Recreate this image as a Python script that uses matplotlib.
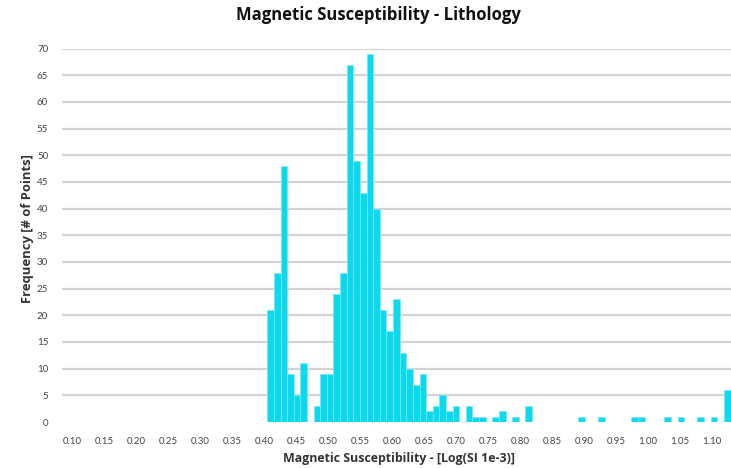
import numpy as np
import matplotlib
matplotlib.use("Agg")
import matplotlib.pyplot as plt

plt.rcParams['font.family'] = ['Open Sans', 'DejaVu Sans']

# histogram bins (log SI 1e-3)
bin_start = 0.4052
bin_width = 0.01034
counts = [21, 28, 48, 9, 5, 11, 0, 3, 9, 9,
          24, 28, 67, 49, 43, 69, 40, 21, 17, 23,
          13, 10, 7, 9, 2, 3, 5, 2, 3, 0,
          3, 1, 1, 0, 1, 2, 0, 1, 0, 3,
          0, 0, 0, 0, 0, 0, 0, 1, 0, 0,
          1, 0, 0, 0, 0, 1, 1, 0, 0, 0,
          1, 0, 1, 0, 0, 1, 0, 1, 0, 6]
xticks = np.round(np.arange(0.10, 1.101, 0.05), 2)
yticks = list(range(0, 71, 5))

edges = bin_start + np.arange(len(counts)) * bin_width

fig = plt.figure(figsize=(7.31, 4.68), dpi=100)
ax = fig.add_axes([62/731, 46/468, 669/731, 373.5/468])

for y in yticks[1:]:
    ax.axhline(y, color='#d4d4d4', lw=1.6, zorder=0)

ax.bar(edges, counts, width=bin_width, align='edge', color='#0bd9ee',
       edgecolor='#7ae8f5', linewidth=0.5, zorder=2)

ax.set_xlim(0.0844, 1.1297)
ax.set_ylim(0, 70)
ax.set_xticks(xticks)
ax.set_xticklabels(['%.2f' % t for t in xticks], family=['Lato', 'DejaVu Sans'])
ax.set_yticks(yticks)
ax.set_yticklabels([str(t) for t in yticks], family=['Lato', 'DejaVu Sans'])
ax.tick_params(length=0, labelsize=7, colors='#444444')
ax.tick_params(axis='x', pad=11)
ax.tick_params(axis='y', pad=10)
for s in ax.spines.values():
    s.set_visible(False)

fig.text(378/731, 1 - 15/468, 'Magnetic Susceptibility - Lithology',
         ha='center', va='center', fontsize=12, fontweight='bold', color='#111111')
fig.text(398.5/731, 1 - 458.5/468, 'Magnetic Susceptibility - [Log(SI 1e-3)]',
         ha='center', va='center', fontsize=8.95, fontweight='bold', color='#333333')
fig.text(27.5/731, 1 - 228.5/468, 'Frequency [# of Points]', rotation=90,
         ha='center', va='center', fontsize=9.4, fontweight='bold', color='#333333')

fig.savefig('out.png', dpi=100)
